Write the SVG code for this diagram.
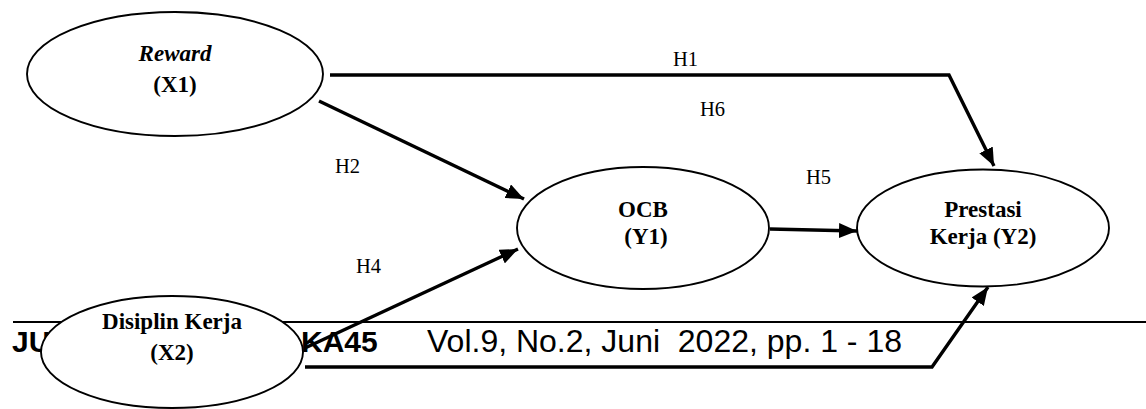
<svg xmlns="http://www.w3.org/2000/svg" width="1146" height="409" viewBox="0 0 1146 409">
  <style>
    .node { fill: #ffffff; stroke: #000000; stroke-width: 1.9; }
    .nlabel { font-family: "Liberation Serif", "Times New Roman", serif; font-weight: bold; font-size: 23px; fill: #000000; text-anchor: middle; }
    .hlabel { font-family: "Liberation Serif", "Times New Roman", serif; font-size: 20.5px; fill: #000000; }
    .edge { fill: none; stroke: #000000; stroke-width: 3.4; stroke-linejoin: miter; }
    .rule { stroke: #000000; stroke-width: 1.8; }
    .head { font-family: "Liberation Sans", Arial, sans-serif; font-weight: bold; font-size: 30px; fill: #000000; }
    .vol { font-family: "Liberation Sans", Arial, sans-serif; font-size: 31px; fill: #000000; white-space: pre; }
  </style>
  <defs>
    <marker id="arrow" markerUnits="userSpaceOnUse" markerWidth="19" markerHeight="15" refX="18" refY="7.5" orient="auto">
      <path d="M0,0 L18,7.5 L0,15 z" fill="#000000"/>
    </marker>
  </defs>

  <rect width="1146" height="409" fill="#ffffff"/>

  <!-- page header strip -->
  <g id="page-header">
    <line class="rule" x1="13" y1="322" x2="1146" y2="322"/>
    <text class="head" x="12" y="352">JU</text>
    <text class="head" x="301" y="352">KA45</text>
    <text class="vol" x="427" y="352" xml:space="preserve" textLength="475" lengthAdjust="spacingAndGlyphs">Vol.9, No.2, Juni  2022, pp. 1 - 18</text>
  </g>

  <!-- nodes -->
  <g id="node-reward">
    <ellipse class="node" cx="175" cy="74" rx="148" ry="62"/>
    <text class="nlabel" x="175" y="61" font-style="italic">Reward</text>
    <text class="nlabel" x="175" y="92">(X1)</text>
  </g>

  <g id="node-ocb">
    <ellipse class="node" cx="643" cy="228" rx="126" ry="61"/>
    <text class="nlabel" x="643" y="217">OCB</text>
    <text class="nlabel" x="646" y="244">(Y1)</text>
  </g>

  <g id="node-prestasi">
    <ellipse class="node" cx="983" cy="228" rx="126" ry="58.5"/>
    <text class="nlabel" x="983" y="217">Prestasi</text>
    <text class="nlabel" x="983" y="244">Kerja (Y2)</text>
  </g>

  <g id="node-disiplin">
    <ellipse class="node" cx="172" cy="352" rx="131" ry="56"/>
    <text class="nlabel" x="172" y="329" font-size="24">Disiplin Kerja</text>
    <text class="nlabel" x="172" y="360">(X2)</text>
  </g>

  <!-- connectors -->
  <g id="connectors">
    <polyline class="edge" points="330,75 949,75 994,166" marker-end="url(#arrow)"/>
    <line class="edge" x1="319" y1="101" x2="524" y2="199" marker-end="url(#arrow)"/>
    <line class="edge" x1="770" y1="229" x2="857" y2="231" marker-end="url(#arrow)"/>
    <line class="edge" x1="305" y1="348" x2="518" y2="249" marker-end="url(#arrow)"/>
    <polyline class="edge" points="305,367 932,367 988,287" marker-end="url(#arrow)"/>
  </g>

  <!-- path labels -->
  <g id="path-labels">
    <text class="hlabel" x="673" y="66">H1</text>
    <text class="hlabel" x="700" y="116">H6</text>
    <text class="hlabel" x="335" y="173">H2</text>
    <text class="hlabel" x="806" y="184">H5</text>
    <text class="hlabel" x="356" y="273">H4</text>
  </g>
</svg>
